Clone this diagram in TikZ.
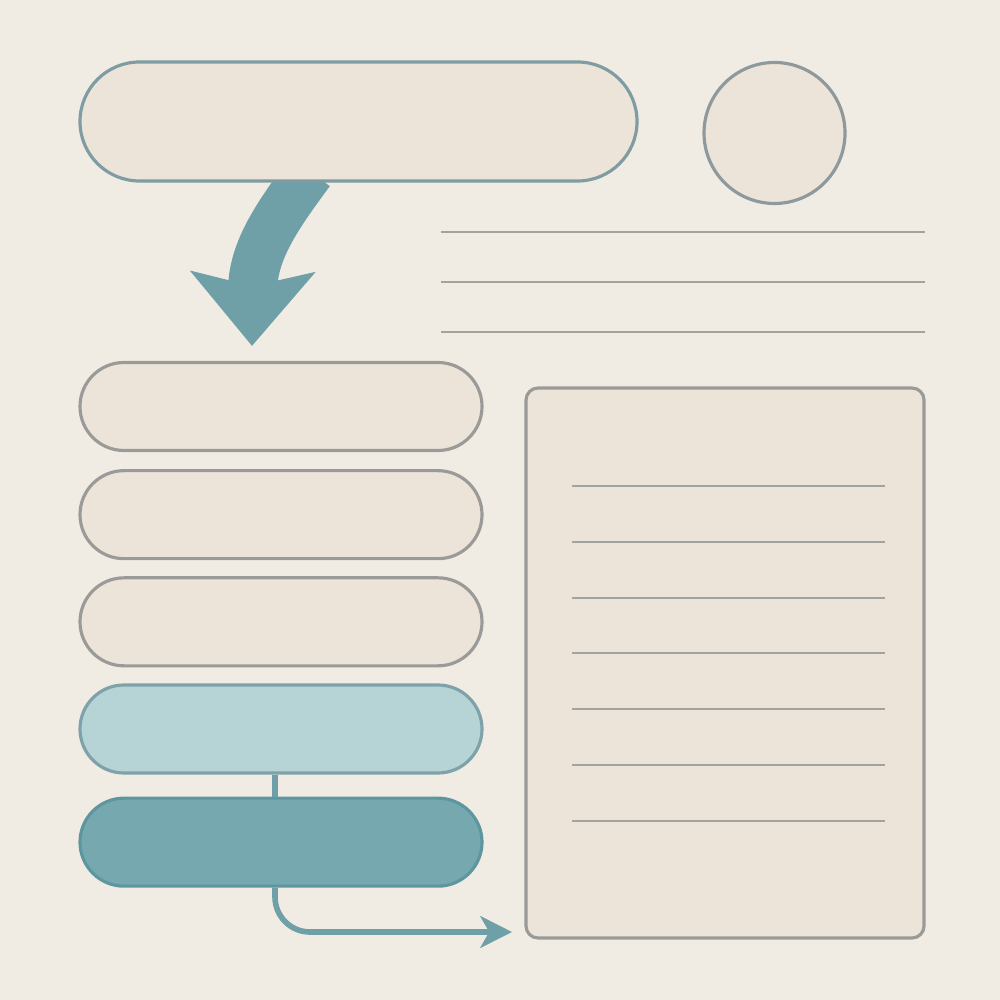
\documentclass[tikz,border=0pt]{standalone}
\usepackage{tikz,xcolor}
\usetikzlibrary{shapes.geometric,shapes.misc,arrows.meta,positioning}

\definecolor{paper}{HTML}{F1ECE3}
\definecolor{pillfill}{HTML}{ECE4D9}
\definecolor{pillgray}{HTML}{9A9B98}
\definecolor{titleedge}{HTML}{7F9CA3}
\definecolor{circedge}{HTML}{8E999D}
\definecolor{rulegray}{HTML}{A2A39F}
\definecolor{arrowteal}{HTML}{6F9FA7}
\definecolor{lightfill}{HTML}{B6D4D6}
\definecolor{lightedge}{HTML}{7EA2AA}
\definecolor{darkfill}{HTML}{76A8AF}
\definecolor{darkedge}{HTML}{5E96A0}

\pgfdeclarelayer{paperlayer}
\pgfdeclarelayer{arrowlayer}
\pgfsetlayers{paperlayer,arrowlayer,main}

\begin{document}
\begin{tikzpicture}[>={Stealth[length=9pt,width=9pt,inset=2.5pt]},
	every node/.style={draw=pillgray, line width=0.9pt, fill=pillfill, inner sep=0pt},
	pill/.style={shape=rounded rectangle, minimum width=4.02cm, minimum height=0.88cm},
	rule/.style={draw=rulegray, line width=0.6pt},
	link/.style={draw=arrowteal, line width=1.6pt},
	bigarrow/.style={draw=arrowteal, line width=14pt, -{Stealth[length=21pt,width=35pt,inset=4pt]}}]
	\begin{pgfonlayer}{paperlayer}
	\fill[paper] (0,0) rectangle (10,-10);
	\end{pgfonlayer}

	% create the nodes
	\node (title)[pill, minimum width=5.57cm, minimum height=1.19cm, draw=titleedge] at (3.585,-1.215) {};
	\node (badge)[shape=circle, minimum size=1.41cm, draw=circedge] at (7.745,-1.33) {};
	\node (s1)[pill] at (2.81,-4.065) {};
	\node (s2)[pill, below=0.17cm of s1] {};
	\node (s3)[pill, below=0.16cm of s2] {};
	\node (s4)[pill, below=0.16cm of s3, fill=lightfill, draw=lightedge] {};
	\node (s5)[pill, below=0.22cm of s4, fill=darkfill, draw=darkedge] {};
	\node (sheet)[shape=rectangle, rounded corners=0.12cm, minimum width=3.98cm, minimum height=5.5cm] at (7.25,-6.63) {};
	\coordinate (out) at (5.12,-9.32);

	% text lines
	\foreach \y in {2.32,2.82,3.32}
		\draw[rule] (4.41,-\y) -- (9.25,-\y);
	\foreach \y in {4.86,5.42,5.98,6.53,7.09,7.65,8.21}
		\draw[rule] (5.72,-\y) -- (8.85,-\y);

	% connect the nodes
	\begin{pgfonlayer}{arrowlayer}
	\draw[bigarrow] ([xshift=-0.485cm,yshift=0.11cm]title.south) .. controls (2.78,-2.15) and (2.53,-2.5) .. ([xshift=-0.29cm,yshift=0.15cm]s1.north);
	\end{pgfonlayer}
	\draw[link] ([xshift=-0.06cm]s4.south) -- ([xshift=-0.06cm]s5.north);
	\draw[link, ->, rounded corners=0.35cm] ([xshift=-0.06cm]s5.south) |- (out);

\end{tikzpicture}
\end{document}
